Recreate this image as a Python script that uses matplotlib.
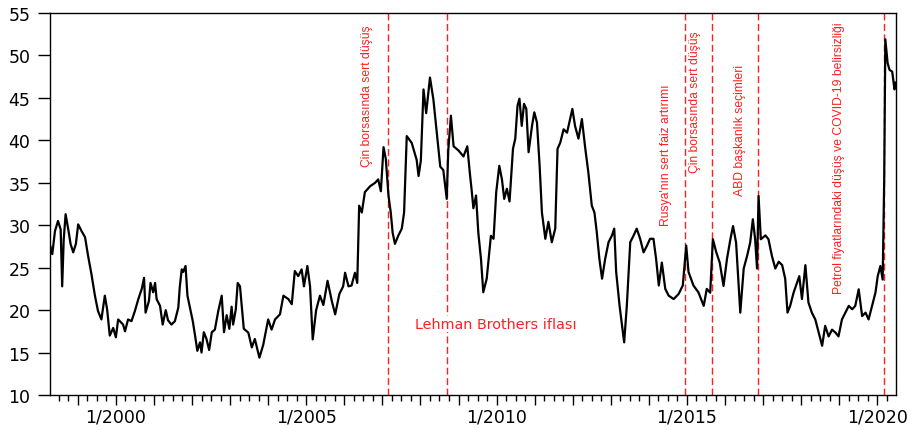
import matplotlib
matplotlib.use("Agg")
import matplotlib.pyplot as plt
from matplotlib import font_manager
from matplotlib.ticker import MultipleLocator, FuncFormatter

# seri (ondalık yıl, değer)
years = [
    1998.28, 1998.33, 1998.40, 1998.48, 1998.55, 1998.59, 1998.63, 1998.68, 1998.75, 1998.81,
    1998.88, 1998.95, 1999.01, 1999.10, 1999.19, 1999.27, 1999.36, 1999.45, 1999.53, 1999.62,
    1999.71, 1999.77, 1999.84, 1999.93, 2000.00, 2000.06, 2000.19, 2000.24, 2000.32, 2000.41,
    2000.50, 2000.59, 2000.68, 2000.74, 2000.78, 2000.87, 2000.91, 2000.98, 2001.03, 2001.07,
    2001.16, 2001.23, 2001.31, 2001.37, 2001.46, 2001.55, 2001.64, 2001.68, 2001.73, 2001.77,
    2001.83, 2001.88, 2001.94, 2002.02, 2002.08, 2002.14, 2002.21, 2002.25, 2002.31, 2002.38,
    2002.45, 2002.52, 2002.60, 2002.69, 2002.78, 2002.84, 2002.91, 2002.98, 2003.04, 2003.08,
    2003.15, 2003.20, 2003.26, 2003.36, 2003.48, 2003.57, 2003.65, 2003.77, 2003.87, 2004.00,
    2004.09, 2004.18, 2004.31, 2004.40, 2004.53, 2004.62, 2004.70, 2004.79, 2004.88, 2004.94,
    2005.03, 2005.10, 2005.17, 2005.26, 2005.36, 2005.45, 2005.56, 2005.67, 2005.76, 2005.87,
    2005.97, 2006.02, 2006.11, 2006.19, 2006.28, 2006.34, 2006.39, 2006.46, 2006.54, 2006.68,
    2006.81, 2006.89, 2006.96, 2007.03, 2007.09, 2007.16, 2007.22, 2007.27, 2007.33, 2007.42,
    2007.51, 2007.57, 2007.64, 2007.77, 2007.90, 2007.95, 2008.01, 2008.08, 2008.15, 2008.25,
    2008.34, 2008.43, 2008.52, 2008.60, 2008.69, 2008.73, 2008.80, 2008.87, 2009.00, 2009.13,
    2009.23, 2009.30, 2009.35, 2009.39, 2009.46, 2009.52, 2009.59, 2009.65, 2009.74, 2009.85,
    2009.92, 2009.99, 2010.07, 2010.14, 2010.20, 2010.27, 2010.34, 2010.43, 2010.49, 2010.55,
    2010.60, 2010.66, 2010.72, 2010.78, 2010.84, 2010.93, 2010.99, 2011.06, 2011.13, 2011.19,
    2011.28, 2011.36, 2011.45, 2011.54, 2011.60, 2011.67, 2011.76, 2011.85, 2011.93, 2011.99,
    2012.06, 2012.15, 2012.24, 2012.33, 2012.41, 2012.50, 2012.57, 2012.63, 2012.70, 2012.77,
    2012.85, 2012.94, 2013.03, 2013.09, 2013.14, 2013.23, 2013.32, 2013.35, 2013.42, 2013.51,
    2013.60, 2013.68, 2013.77, 2013.86, 2013.95, 2014.03, 2014.12, 2014.19, 2014.26, 2014.34,
    2014.43, 2014.52, 2014.65, 2014.78, 2014.89, 2014.98, 2015.04, 2015.17, 2015.30, 2015.44,
    2015.52, 2015.61, 2015.68, 2015.77, 2015.86, 2015.96, 2016.05, 2016.14, 2016.21, 2016.29,
    2016.40, 2016.49, 2016.58, 2016.66, 2016.73, 2016.79, 2016.84, 2016.88, 2016.94, 2017.06,
    2017.14, 2017.23, 2017.32, 2017.41, 2017.50, 2017.58, 2017.64, 2017.71, 2017.80, 2017.89,
    2017.95, 2018.02, 2018.11, 2018.19, 2018.28, 2018.37, 2018.46, 2018.55, 2018.63, 2018.72,
    2018.81, 2018.90, 2018.98, 2019.07, 2019.16, 2019.25, 2019.34, 2019.42, 2019.51, 2019.60,
    2019.69, 2019.77, 2019.86, 2019.95, 2020.01, 2020.08, 2020.14, 2020.18, 2020.21, 2020.27,
    2020.32, 2020.39, 2020.45, 2020.48,
]
values = [
    27.5, 26.6, 29.3, 30.5, 29.5, 22.8, 28.3, 31.3, 29.5, 27.8,
    26.8, 27.8, 30.1, 29.3, 28.6, 26.4, 24.2, 21.7, 19.9, 18.9,
    21.7, 20.1, 17.0, 17.9, 16.8, 18.9, 18.3, 17.5, 18.9, 18.7,
    19.9, 21.3, 22.5, 23.8, 19.7, 21.1, 23.2, 22.1, 23.2, 21.3,
    20.5, 18.3, 20.0, 18.8, 18.3, 18.7, 20.3, 22.8, 24.8, 24.5,
    25.2, 21.7, 20.4, 18.7, 17.0, 15.2, 16.2, 15.0, 17.4, 16.6,
    15.3, 17.4, 17.7, 19.9, 21.7, 17.4, 19.4, 17.8, 20.4, 18.3,
    20.1, 23.2, 22.8, 17.8, 17.35, 15.6, 16.6, 14.4, 15.9, 18.9,
    17.7, 18.9, 19.5, 21.7, 21.3, 20.7, 24.6, 24.0, 24.8, 22.8,
    25.2, 22.8, 16.55, 20.0, 21.7, 20.6, 23.45, 21.1, 19.5, 21.9,
    22.8, 24.4, 22.8, 22.9, 24.4, 23.2, 32.3, 31.5, 33.9, 34.6,
    35.0, 35.4, 34.0, 39.2, 37.8, 33.5, 31.5, 29.1, 27.8, 28.8,
    29.6, 31.5, 40.5, 39.7, 37.7, 35.8, 37.6, 46.0, 43.2, 47.4,
    44.8, 40.8, 36.9, 36.5, 33.1, 38.8, 42.9, 39.3, 38.8, 38.1,
    39.3, 36.0, 33.9, 32.0, 33.5, 29.1, 26.0, 22.1, 23.7, 28.75,
    28.4, 33.9, 37.0, 35.4, 33.1, 34.3, 32.8, 39.0, 40.2, 44.1,
    44.9, 41.7, 44.3, 43.7, 38.6, 41.7, 43.3, 42.1, 37.0, 31.5,
    28.4, 30.4, 28.0, 29.6, 39.0, 39.7, 41.3, 40.9, 42.5, 43.7,
    41.7, 40.2, 42.5, 39.0, 36.2, 32.3, 31.5, 29.2, 26.0, 23.7,
    26.0, 28.0, 28.8, 29.6, 24.5, 20.5, 17.35, 16.2, 20.5, 28.0,
    28.8, 29.6, 28.4, 26.8, 27.6, 28.4, 28.4, 26.0, 22.9, 25.6,
    22.5, 21.7, 21.3, 21.9, 22.9, 27.6, 24.5, 22.9, 22.1, 20.5,
    22.5, 22.05, 28.35, 26.8, 25.6, 22.85, 26.0, 28.35, 29.9, 27.95,
    19.7, 24.9, 26.4, 27.95, 30.7, 28.35, 24.9, 33.45, 28.35, 28.8,
    28.35, 26.4, 24.9, 25.7, 25.3, 23.7, 19.7, 20.5, 22.05, 23.2,
    24.0, 21.3, 25.3, 20.9, 19.7, 18.9, 17.35, 15.8, 18.15, 16.9,
    17.7, 17.35, 16.9, 18.9, 19.7, 20.5, 20.1, 20.5, 22.45, 19.3,
    19.7, 18.9, 20.5, 22.05, 24.0, 25.2, 23.6, 35.4, 51.9, 49.1,
    48.3, 48.1, 46.0, 46.8,
]

# olaylar
event_dates = [2007.16, 2008.71, 2014.96, 2015.645, 2016.855, 2020.186]
event_labels = [
    "Çin borsasında sert düşüş",
    "Lehman Brothers iflası",
    "Rusya'nın sert faiz artırımı",
    "Çin borsasında sert düşüş",
    "ABD başkanlık seçimleri",
    "Petrol fiyatlarındaki düşüş ve COVID-19 belirsizliği",
]

fonts = {f.name for f in font_manager.fontManager.ttflist}
if "Liberation Sans Narrow" in fonts:
    narrow, narrow_size = "Liberation Sans Narrow", 10.4
else:
    narrow, narrow_size = "Liberation Sans", 8.7

red = "#ff1f1f"

fig = plt.figure(figsize=(9.19, 4.31), dpi=100)
ax = fig.add_axes([50 / 919, 1 - 396 / 431, 846 / 919, 382 / 431])

ax.plot(years, values, color="black", lw=1.6)

# etiket yerleşimi: (x kayması px, üstten px) ; Lehman yatay
label_pos = [(-21.7, 11), (48.6, 71), (-19.5, 71), (-16.3, 17), (-18, 51), (-45.7, 8)]
for d, lab, (dx, dy) in zip(event_dates, event_labels, label_pos):
    ax.axvline(d, color=red, lw=1.0, ls=(0, (5, 2.5)), zorder=1)
    if lab.startswith("Lehman"):
        ax.annotate(lab, xy=(d, 0), xycoords=("data", "axes fraction"),
                    xytext=(dx, dy), textcoords="offset pixels",
                    ha="center", va="center", color=red,
                    fontsize=10.4, family="DejaVu Sans",
                    bbox=dict(fc="white", ec="none", pad=1), zorder=3)
    else:
        ax.annotate(lab, xy=(d, 1), xycoords=("data", "axes fraction"),
                    xytext=(dx, -dy), textcoords="offset pixels",
                    ha="center", va="top", rotation=90, color=red,
                    fontsize=narrow_size, family=narrow, zorder=3)

ax.set_xlim(1998.27, 2020.49)
ax.set_ylim(10, 55)
ax.yaxis.set_major_locator(MultipleLocator(5))
ax.xaxis.set_major_locator(MultipleLocator(1))
ax.xaxis.set_minor_locator(MultipleLocator(0.25))
ax.xaxis.set_major_formatter(FuncFormatter(
    lambda v, p: "1/%d" % round(v) if round(v) % 5 == 0 else ""))

ax.tick_params(axis="y", length=9, width=1, pad=5, labelsize=12.5)
ax.tick_params(axis="x", which="major", length=7, width=1, pad=2, labelsize=12.5)
ax.tick_params(axis="x", which="minor", length=4, width=1)
for s in ax.spines.values():
    s.set_linewidth(1.0)

fig.savefig("out.png", dpi=100)
